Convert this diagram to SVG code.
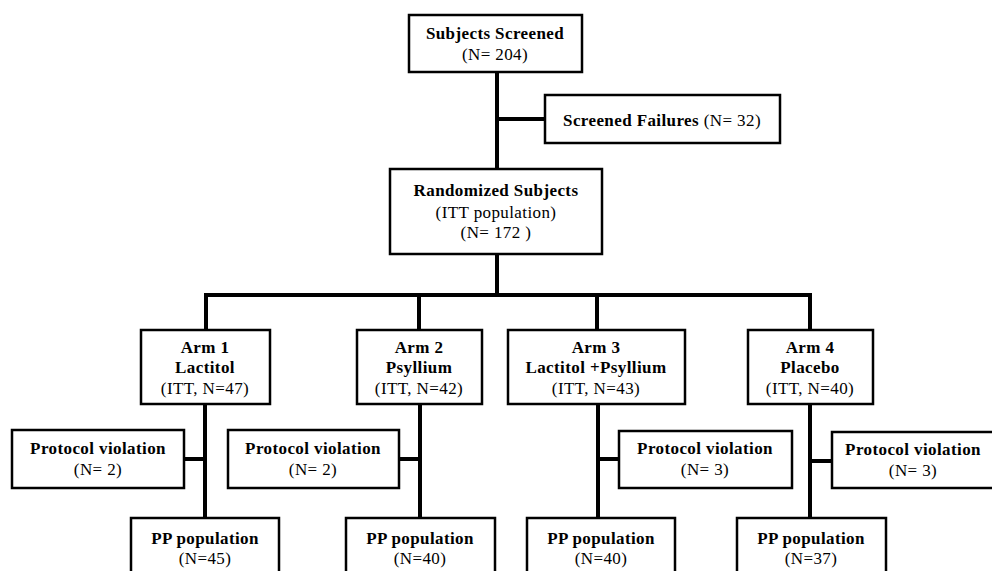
<svg xmlns="http://www.w3.org/2000/svg" width="992" height="571" viewBox="0 0 992 571">
<style>
.box{fill:#fff;stroke:#000;stroke-width:2.5}
.con{stroke:#000;stroke-width:4;fill:none;stroke-linecap:butt}
text{font-family:"Liberation Serif","Times New Roman",serif;font-size:17px;letter-spacing:0.4px;fill:#000;text-anchor:middle}
.b{font-weight:bold}
</style>
<rect width="992" height="571" fill="#fff"/>
<g id="connectors">
<path class="con" d="M497 71V169M497 119H545M497 254V295M204 295H812M206 293V330M419 293V330M597 293V330M810 293V330"/>
<path class="con" d="M205 404V518M184 459H207M420 404V518M399 459H422M598 404V518M598 459H619M810 404V518M808 461H832"/>
</g>
<g id="screened">
<rect class="box" x="409" y="15" width="173" height="57"/>
<text x="495" y="39" class="b">Subjects Screened</text>
<text x="495" y="60">(N= 204)</text>
</g>
<g id="failures">
<rect class="box" x="545" y="95" width="235" height="48"/>
<text x="662" y="126"><tspan class="b">Screened Failures</tspan> (N= 32)</text>
</g>
<g id="randomized">
<rect class="box" x="390" y="169" width="212" height="85"/>
<text x="496" y="196" class="b">Randomized Subjects</text>
<text x="496" y="218">(ITT population)</text>
<text x="496" y="238">(N= 172 )</text>
</g>
<g id="arm1">
<rect class="box" x="141" y="330" width="129" height="74"/>
<text x="205" y="353" class="b">Arm 1</text>
<text x="205" y="373" class="b">Lactitol</text>
<text x="205" y="394">(ITT, N=47)</text>
</g>
<g id="arm2">
<rect class="box" x="357" y="330" width="125" height="74"/>
<text x="419" y="353" class="b">Arm 2</text>
<text x="419" y="373" class="b">Psyllium</text>
<text x="419" y="394">(ITT, N=42)</text>
</g>
<g id="arm3">
<rect class="box" x="508" y="330" width="177" height="74"/>
<text x="596" y="353" class="b">Arm 3</text>
<text x="596" y="373" class="b">Lactitol +Psyllium</text>
<text x="596" y="394">(ITT, N=43)</text>
</g>
<g id="arm4">
<rect class="box" x="748" y="330" width="125" height="74"/>
<text x="810" y="353" class="b">Arm 4</text>
<text x="810" y="373" class="b">Placebo</text>
<text x="810" y="394">(ITT, N=40)</text>
</g>
<g id="pv1">
<rect class="box" x="12" y="430" width="172" height="58"/>
<text x="98" y="454" class="b">Protocol violation</text>
<text x="98" y="475">(N= 2)</text>
</g>
<g id="pv2">
<rect class="box" x="228" y="430" width="171" height="58"/>
<text x="313" y="454" class="b">Protocol violation</text>
<text x="313" y="475">(N= 2)</text>
</g>
<g id="pv3">
<rect class="box" x="619" y="431" width="173" height="57"/>
<text x="705" y="454" class="b">Protocol violation</text>
<text x="705" y="475">(N= 3)</text>
</g>
<g id="pv4">
<rect class="box" x="832" y="432" width="170" height="56"/>
<text x="913" y="455" class="b">Protocol violation</text>
<text x="913" y="476">(N= 3)</text>
</g>
<g id="pp1">
<rect class="box" x="131" y="518" width="148" height="70"/>
<text x="205" y="544" class="b">PP population</text>
<text x="205" y="564">(N=45)</text>
</g>
<g id="pp2">
<rect class="box" x="346" y="518" width="149" height="70"/>
<text x="420" y="544" class="b">PP population</text>
<text x="420" y="564">(N=40)</text>
</g>
<g id="pp3">
<rect class="box" x="527" y="518" width="148" height="70"/>
<text x="601" y="544" class="b">PP population</text>
<text x="601" y="564">(N=40)</text>
</g>
<g id="pp4">
<rect class="box" x="737" y="518" width="149" height="70"/>
<text x="811" y="544" class="b">PP population</text>
<text x="811" y="564">(N=37)</text>
</g>
</svg>
